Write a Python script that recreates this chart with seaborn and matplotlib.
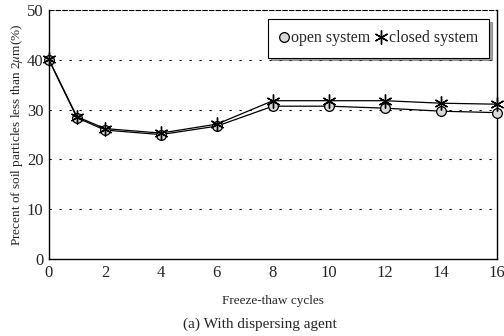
import pandas as pd
import matplotlib
matplotlib.use('Agg')
import matplotlib.pyplot as plt
import seaborn as sns

sns.set_style('white')
plt.rcParams['font.family'] = ['Liberation Serif', 'DejaVu Serif']
plt.rcParams['font.size'] = 10
plt.rcParams['mathtext.fontset'] = 'stix'

cycles = [0, 1, 2, 4, 6, 8, 10, 12, 14, 16]
open_system = [40.0, 28.4, 25.9, 25.0, 26.7, 30.7, 30.7, 30.3, 29.7, 29.4]
closed_system = [40.1, 28.6, 26.2, 25.3, 27.1, 31.8, 31.8, 31.8, 31.3, 31.1]

df = pd.DataFrame({'cycles': cycles * 2,
                   'value': open_system + closed_system,
                   'series': ['open system'] * len(cycles) + ['closed system'] * len(cycles)})

fig = plt.figure(figsize=(5.04, 3.36), dpi=100)
ax = fig.add_axes([0.097, 0.229, 0.889, 0.741])

sns.lineplot(data=df[df['series'] == 'open system'], x='cycles', y='value',
             color='black', lw=0.9, marker='o', markersize=7,
             markerfacecolor='#d8d8d8', markeredgecolor='black', markeredgewidth=0.9,
             label='open system', ax=ax, clip_on=False, zorder=5)
sns.lineplot(data=df[df['series'] == 'closed system'], x='cycles', y='value',
             color='black', lw=0.9, marker=(6, 2, 0), markersize=10,
             markeredgecolor='black', markeredgewidth=1.0,
             label='closed system', ax=ax, clip_on=False, zorder=5)

ax.set_xlim(0, 16)
ax.set_ylim(0, 50)
ax.set_xticks(range(0, 17, 2))
ax.set_yticks(range(0, 51, 10))
for y in [10, 20, 30, 40]:
    ax.axhline(y, color='black', lw=0.8, ls=(0, (2, 7)), zorder=0)

for s in ['left', 'bottom', 'right']:
    ax.spines[s].set_color('black')
    ax.spines[s].set_linewidth(1.0)
ax.spines['top'].set_linestyle((0, (4, 2)))
ax.spines['top'].set_linewidth(0.8)
ax.spines['top'].set_color('black')
ax.tick_params(axis='both', length=0, labelsize=12, pad=4)

ax.set_xlabel('Freeze-thaw cycles', fontsize=9.5, labelpad=10)
ax.set_ylabel(r'Precent of soil particles less than 2$\mu$m(%)', fontsize=9.5, labelpad=1)
fig.text(0.515, 0.025, '(a) With dispersing agent', ha='center', fontsize=11)

leg = ax.legend(loc='upper right', ncol=2, frameon=True, fancybox=False, shadow=True,
                handlelength=0.6, handletextpad=0.15, columnspacing=0.4,
                borderpad=0.7, fontsize=11.5, bbox_to_anchor=(1.0, 0.995))
leg.get_frame().set_edgecolor('black')
leg.get_frame().set_linewidth(0.8)
for h in leg.legend_handles:
    h.set_linestyle('none')

fig.savefig('out.png', dpi=100)
